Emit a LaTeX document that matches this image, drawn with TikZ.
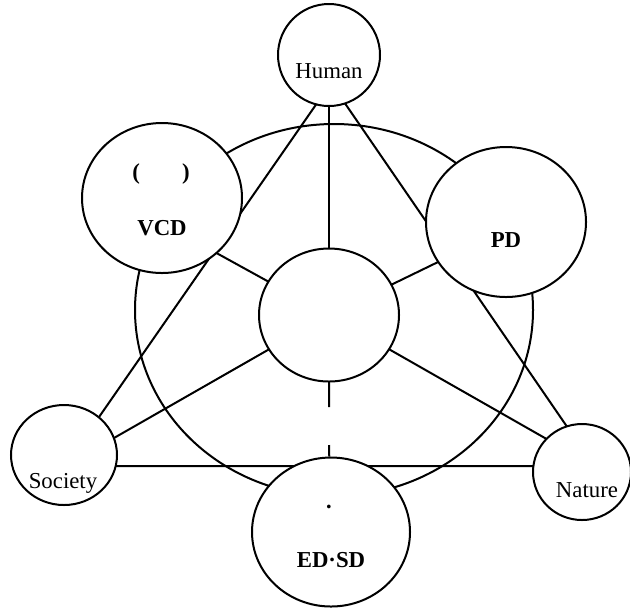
\documentclass[tikz,border=0pt]{standalone}
\usepackage{fontspec}
\setmainfont{Liberation Serif}
\usetikzlibrary{shapes.geometric,backgrounds}

\begin{document}
\begin{tikzpicture}[x=0.5pt,y=-0.5pt,line width=1pt,
  blob/.style={draw,ellipse,fill=white,inner sep=0pt},
  lbl/.style={anchor=base,inner sep=0pt,font=\fontsize{11.4}{13}\selectfont},
  blbl/.style={lbl,font=\fontsize{11.4}{13}\selectfont\bfseries}]
  \useasboundingbox (0,0) rectangle (630,607);
  \node[blob,minimum width=51pt,minimum height=51pt] (human) at (329,55) {};
  \node[blob,minimum width=80pt,minimum height=75pt] (vcd) at (162,198) {};
  \node[blob,minimum width=80pt,minimum height=75pt] (pd) at (506,222) {};
  \node[blob,minimum width=70pt,minimum height=66.5pt] (core) at (329,315) {};
  \node[blob,minimum width=53pt,minimum height=50pt] (society) at (64,455) {};
  \node[blob,minimum width=49pt,minimum height=48pt] (nature) at (582,472) {};
  \node[blob,minimum width=79pt,minimum height=74.5pt] (ed) at (331,532) {};
  \coordinate (tA) at (331,83);
  \coordinate (tB) at (65,466);
  \coordinate (tC) at (594,466);
  \coordinate (vcd-in) at (162,223);
  \coordinate (pd-in) at (506,229);
  \coordinate (gapA) at (329,407);
  \coordinate (gapB) at (329,445);
  \begin{scope}[on background layer={line width=1pt}]
    \draw (334,310) ellipse [x radius=199,y radius=186];
    \draw (tA) -- (tB) -- (tC) -- cycle;
    \draw (human) -- (core);
    \foreach \t in {vcd-in,pd-in,tB,tC}
      \draw (core.center) -- (\t);
    \draw (core.center) -- (gapA) (gapB) -- (ed);
  \end{scope}
  \node[lbl] (human-t) at (329,78) {Human};
  \node[blbl] (vcd-p) at (161,179) {(\hspace{21pt})};
  \node[blbl] (vcd-t) at (162,235) {VCD};
  \node[blbl] (pd-t) at (506,247) {PD};
  \node[lbl] (society-t) at (63,488) {Society};
  \node[lbl] (nature-t) at (587,497) {Nature};
  \node[blbl] (ed-d) at (329,514) {·};
  \node[blbl] (ed-t) at (331,567) {ED·SD};
\end{tikzpicture}
\end{document}
